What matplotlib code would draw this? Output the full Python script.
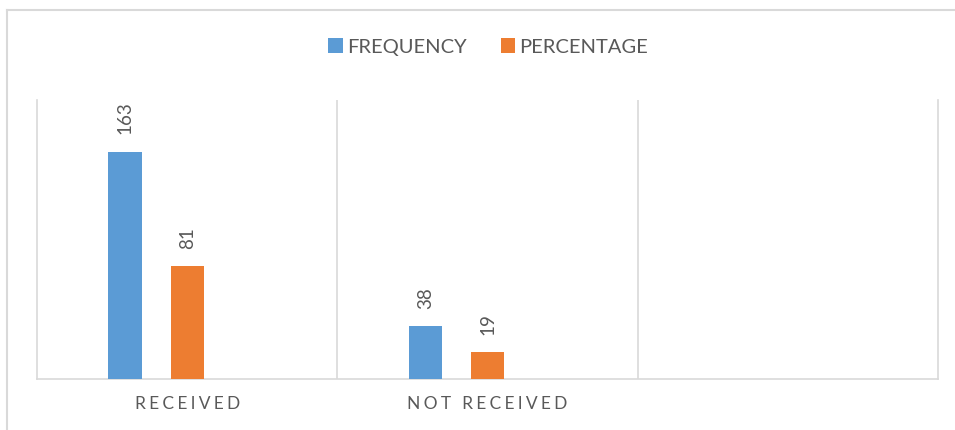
import matplotlib
matplotlib.use("Agg")
import matplotlib.pyplot as plt
from matplotlib.lines import Line2D
from matplotlib.patches import Patch
import numpy as np

categories = ["RECEIVED", "NOT RECEIVED", ""]
frequency = [163, 38, None]
percentage = [81, 19, None]
series_names = ["FREQUENCY", "PERCENTAGE"]

BLUE = "#5B9BD5"
ORANGE = "#ED7D31"
GRID = "#D9D9D9"
TEXT = "#595959"

plt.rcParams["font.family"] = ["Lato", "DejaVu Sans"]

W, H = 955, 430
fig = plt.figure(figsize=(W / 100, H / 100), dpi=100)

# plot area in pixels: x 37..938, y 100..379
ax = fig.add_axes([37 / W, (H - 379) / H, (938 - 37) / W, (379 - 100) / H])

x = np.arange(len(categories))
bw = 0.11
offs = [-0.207, 0.0]

for vals, off, col in zip([frequency, percentage], offs, [BLUE, ORANGE]):
    for xi, v in zip(x, vals):
        if v is None:
            continue
        ax.bar(xi + off, v, width=bw, color=col, zorder=3)
        ax.annotate(str(v), (xi + off, v), xytext=(0, 12.5), textcoords="offset points",
                    rotation=90, ha="center", va="bottom", fontsize=13.5, color=TEXT)

ax.set_xlim(-0.5, len(categories) - 0.5)
ax.set_ylim(0, 200)
ax.set_yticks([])

# category separators
for b in np.arange(0.5, len(categories) - 0.5):
    ax.axvline(b, color=GRID, lw=1.2, zorder=1)

ax.spines["top"].set_visible(False)
for s in ["left", "right", "bottom"]:
    ax.spines[s].set_color(GRID)
    ax.spines[s].set_linewidth(1.2)

ax.set_xticks(x)
# letter-spaced category labels
gap = "\u2009\u200a"
spaced = [gap.join(list(c)).replace(gap + " " + gap, gap + gap + " ") for c in categories]
ax.set_xticklabels(spaced, fontsize=12.5, color=TEXT)
ax.tick_params(axis="x", length=0, pad=12)

handles = [Patch(facecolor=BLUE), Patch(facecolor=ORANGE)]
fig.legend(handles, series_names, loc="center", bbox_to_anchor=(488 / W, 1 - 47 / H),
           ncol=2, frameon=False, fontsize=14.5, handlelength=0.72, handleheight=0.72,
           handletextpad=0.2, columnspacing=1.7, labelcolor=TEXT)

# chart area border (partially cropped in the reference)
fig.add_artist(Line2D([6.5 / W, 6.5 / W], [0, 1 - 9.5 / H], color=GRID, lw=1.5))
fig.add_artist(Line2D([6.5 / W, 1], [1 - 9.5 / H, 1 - 9.5 / H], color=GRID, lw=1.5))

fig.savefig("out.png", dpi=100)
